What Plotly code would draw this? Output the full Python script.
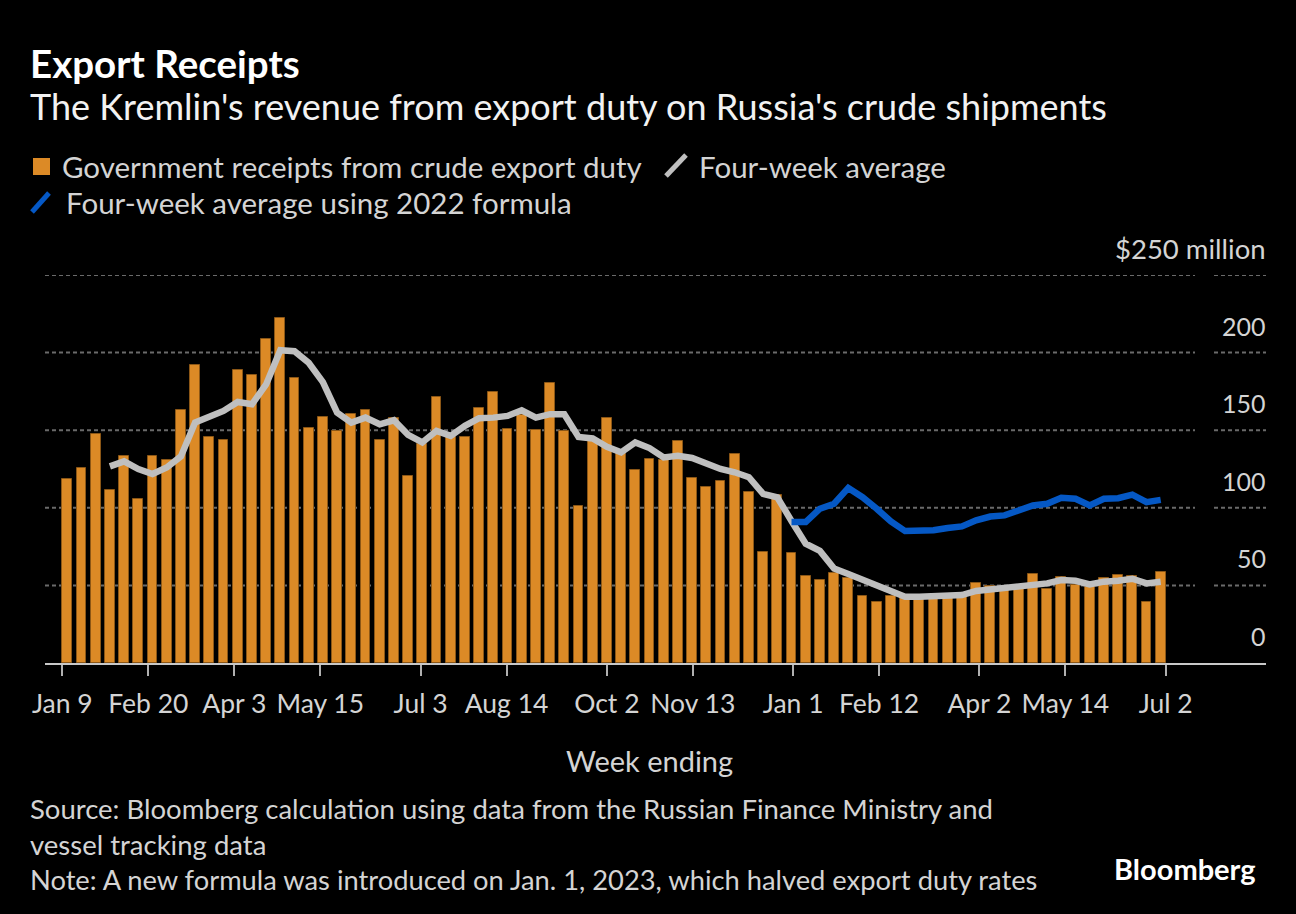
import pandas as pd
import plotly.graph_objects as go

# weekly data, week ending Jan 9 2022 .. Jul 2 2023
weeks = pd.date_range('2022-01-09', '2023-07-02', freq='7D')

receipts = [118.6, 125.6, 147.6, 111.5, 133.5, 105.6, 133.5, 130.8, 162.8, 191.7,
            145.7, 143.6, 188.7, 185.7, 208.5, 222.6, 183.5, 151.7, 158.5, 149.8,
            160.5, 162.8, 143.8, 158.1, 120.5, 141.0, 171.6, 145.3, 145.5, 164.5,
            174.6, 150.6, 160.0, 150.0, 180.1, 149.4, 101.3, 142.8, 157.7, 135.3,
            124.6, 131.6, 130.8, 143.2, 119.4, 113.5, 117.1, 134.4, 110.5, 71.8,
            108.1, 71.0, 56.0, 53.4, 58.3, 54.8, 43.2, 39.0, 43.0, 44.0,
            42.0, 42.0, 42.6, 43.0, 51.4, 49.4, 49.0, 50.5, 57.4, 47.6,
            55.1, 50.2, 49.0, 54.5, 56.4, 55.8, 39.3, 58.8]

avg_4wk = [None, None, None,
           126.7, 129.9, 125.0, 121.8, 126.0, 133.1, 154.9, 158.5, 162.4, 168.2,
           166.7, 179.5, 201.5, 200.9, 193.4, 181.0, 161.3, 154.9, 158.1, 153.8,
           156.4, 147.0, 142.1, 149.6, 146.4, 152.8, 157.7, 158.1, 159.2, 162.8,
           158.1, 160.3, 160.3, 145.7, 144.7, 139.3, 135.7, 142.1, 138.5, 132.5,
           133.5, 132.1, 128.2, 125.0, 122.9, 119.7, 109.0, 106.8, 91.5, 76.9,
           72.2, 60.9, 57.3, 53.8, 50.2, 45.9, 42.7, 42.7, 43.2, 43.8,
           43.8, 46.4, 47.4, 48.1, 49.6, 50.6, 51.3, 53.4, 53.0, 50.6,
           52.4, 53.0, 54.3, 51.3, 52.4]

avg_2022_formula = [None] * 51 + [
    90.8, 90.8, 99.4, 102.6, 112.8, 106.8, 99.4, 91.2, 85.0, 84.8,
    85.5, 87.0, 88.0, 91.9, 94.4, 95.1, 98.3, 101.5, 102.6, 106.4,
    105.8, 101.5, 105.8, 106.2, 108.5, 103.6, 105.1]

tick_dates = ['2022-01-09', '2022-02-20', '2022-04-03', '2022-05-15', '2022-07-03',
              '2022-08-14', '2022-10-02', '2022-11-13', '2023-01-01', '2023-02-12',
              '2023-04-02', '2023-05-14', '2023-07-02']
tick_text = ['Jan 9', 'Feb 20', 'Apr 3', 'May 15', 'Jul 3', 'Aug 14', 'Oct 2',
             'Nov 13', 'Jan 1', 'Feb 12', 'Apr 2', 'May 14', 'Jul 2']

y_ticks = [0, 50, 100, 150, 200, 250]
y_text = ['0', '50', '100', '150', '200', '$250 million']

# bars sit on a band scale, ticks on a time scale spanning the same band
idx = list(range(len(weeks)))
bar_w = 0.7
span = (weeks[-1] - weeks[0]).days
tick_pos = [-bar_w / 2 + (pd.Timestamp(d) - weeks[0]).days / span * (len(weeks) - 1 + bar_w)
            for d in tick_dates]

W, H = 1296, 914
L, R, T, B = 45, 1266, 275, 663
FONT = 'Lato'


def px(x):
    return (x - L) / (R - L)


def py(y):
    return (B - y) / (B - T)


fig = go.Figure()
fig.add_trace(go.Bar(x=idx, y=receipts, width=bar_w,
                     marker=dict(color='#dc8a26', line=dict(color='#8c5716', width=1)),
                     name='Government receipts from crude export duty'))
fig.add_trace(go.Scatter(x=idx, y=avg_4wk, mode='lines',
                         line=dict(color='#bfbfbf', width=6.5), name='Four-week average'))
fig.add_trace(go.Scatter(x=idx, y=avg_2022_formula, mode='lines',
                         line=dict(color='#0558c5', width=6.5),
                         name='Four-week average using 2022 formula'))

shapes = []
for v in y_ticks[1:]:
    for a, b in [(L, 1195), (1214, R)]:
        shapes.append(dict(type='line', xref='paper', yref='y', x0=px(a), x1=px(b), y0=v, y1=v,
                           line=dict(color='#6a6a6a', width=2, dash='4px,3px'), layer='below'))

# legend icons
shapes.append(dict(type='rect', xref='paper', yref='paper', x0=px(33), x1=px(50),
                   y0=py(175), y1=py(158), fillcolor='#dc8a26', line=dict(width=0)))
shapes.append(dict(type='line', xref='paper', yref='paper', x0=px(666), x1=px(686),
                   y0=py(176), y1=py(155), line=dict(color='#bfbfbf', width=5)))
shapes.append(dict(type='line', xref='paper', yref='paper', x0=px(32), x1=px(49),
                   y0=py(212), y1=py(193), line=dict(color='#0558c5', width=5)))

ann = []


def text(x, y, s, size, color='#d4d4d4', anchor='left', bold=False):
    if bold:
        s = '<b>' + s + '</b>'
    ann.append(dict(xref='paper', yref='paper', x=px(x), y=py(y), text=s, showarrow=False,
                    xanchor=anchor, yanchor='middle', align=anchor,
                    font=dict(family=FONT, size=size, color=color)))


text(28, 63, 'Export Receipts', 38.5, '#ffffff', bold=True)
text(28, 106, "The Kremlin's revenue from export duty on Russia's crude shipments", 36, '#f2f2f2')
text(60, 166, 'Government receipts from crude export duty', 29.5)
text(697, 166, 'Four-week average', 29.5)
text(64, 202, 'Four-week average using 2022 formula', 29.5)
text(649, 760, 'Week ending', 29, anchor='center')
text(28, 826, 'Source: Bloomberg calculation using data from the Russian Finance Ministry and<br>'
              'vessel tracking data', 27.5)
text(28, 879, 'Note: A new formula was introduced on Jan. 1, 2023, which halved export duty rates', 27.3)
text(1258, 868, 'Bloomberg', 29, '#ffffff', anchor='right', bold=True)

for v, s in zip(y_ticks, y_text):
    ann.append(dict(xref='paper', yref='y', x=px(1268), y=v, yshift=27, text=s,
                    showarrow=False, xanchor='right', yanchor='middle',
                    font=dict(family=FONT, size=27.5 if v == 250 else 25, color='#d4d4d4')))

fig.update_layout(
    width=W, height=H,
    margin=dict(l=L, r=W - R, t=T, b=H - B),
    paper_bgcolor='#000000', plot_bgcolor='#000000',
    showlegend=False, bargap=0,
    shapes=shapes, annotations=ann,
    font=dict(family=FONT, color='#d4d4d4'),
)
fig.update_xaxes(range=[(L - 67.3) / 14.2, (R - 67.3) / 14.2], tickmode='array',
                 tickvals=tick_pos, ticktext=tick_text, showgrid=False, zeroline=False,
                 showline=True, linecolor='#c8c8c8', linewidth=2,
                 ticks='outside', ticklen=11, tickwidth=1.5, tickcolor='#b0b0b0',
                 ticklabelstandoff=5,
                 tickfont=dict(family=FONT, size=26.5, color='#d4d4d4'))
fig.update_yaxes(range=[0, 250], showgrid=False, zeroline=False, showticklabels=False)

fig.write_html('out.html', config={'displayModeBar': False},
               post_script="document.body.style.margin='0';document.body.style.background='#000';")
